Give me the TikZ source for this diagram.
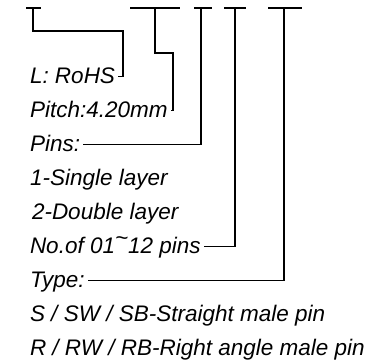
\documentclass[tikz,border=0pt]{standalone}
\usepackage{fontspec}
\setmainfont{Liberation Sans}
\begin{document}
\begin{tikzpicture}[x=1pt,y=-1pt,line width=1.3pt,
  lbl/.style={anchor=base west,inner sep=0pt,outer sep=3pt,text height=14pt,text depth=1pt,
              font=\fontsize{22.5}{27}\selectfont\itshape},
  bar/.style={line width=1.3pt},
  conn/.style={line width=1.3pt}]
\useasboundingbox (0,0) rectangle (385,362);
% labels
\node[lbl] (rohs)  at (27,83)  {L: RoHS};
\node[lbl] (pitch) at (27,117) {Pitch:4.20mm};
\node[lbl] (pins)  at (27,151) {Pins:};
\node[lbl] (single) at (27,185) {1-Single layer};
\node[lbl] (double) at (29,219) {2-Double layer};
\node[lbl] (nof)   at (27,253) {No.of 01\raisebox{0.35em}{\textasciitilde}12 pins};
\node[lbl] (type)  at (27,287) {Type:};
\node[lbl] (st)    at (27,321) {S / SW / SB-Straight male pin};
\node[lbl] (ra)    at (27,355) {R / RW / RB-Right angle male pin};
% top bars
\coordinate (b1l) at (26,8);  \coordinate (b1r) at (41,8);  \coordinate (b1) at (33,8);
\coordinate (b2l) at (130,8); \coordinate (b2r) at (180,8); \coordinate (b2) at (155,8);
\coordinate (b3l) at (194,8); \coordinate (b3r) at (212,8); \coordinate (b3) at (201,8);
\coordinate (b4l) at (224,8); \coordinate (b4r) at (246,8); \coordinate (b4) at (235,8);
\coordinate (b5l) at (268,8); \coordinate (b5r) at (302,8); \coordinate (b5) at (284,8);
\foreach \i in {1,...,5} \draw[bar] (b\i l) -- (b\i r);
% bends
\coordinate (k1) at (123,31);
\coordinate (k2) at (173,53);
% connectors
\draw[conn] (b1) |- (k1) |- (rohs.east);
\draw[conn] (b2) |- (k2) |- (pitch.east);
\draw[conn] (b3) |- (pins.east);
\draw[conn] (b4) |- (nof.east);
\draw[conn] (b5) |- (type.east);
\end{tikzpicture}
\end{document}
